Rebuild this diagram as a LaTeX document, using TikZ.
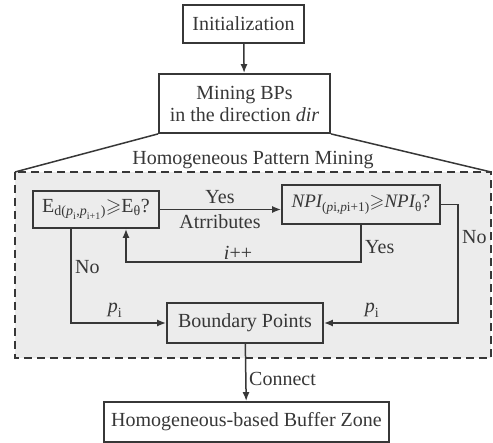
\documentclass[tikz,border=0pt]{standalone}
\usepackage{amsmath,amssymb}
\usepackage{fontspec}
\setmainfont{Liberation Serif}
\usetikzlibrary{arrows.meta,positioning}
\definecolor{linegray}{RGB}{55,55,55}
\definecolor{regionfill}{RGB}{236,236,236}
\tikzset{
  box/.style={draw=linegray, line width=1.8pt, inner sep=0pt, align=center, text=linegray},
  lbl/.style={text=linegray, inner sep=1pt},
  flow/.style={draw=linegray, line width=1.5pt, ->},
}

\begin{document}
\begin{tikzpicture}[x=1pt, y=-1pt, >={Latex[length=9pt,width=7pt]}, font=\fontsize{20}{22}\selectfont]
  \useasboundingbox (0,0) rectangle (493,443);
  % Region of the pattern mining
  \draw[dash pattern=on 8pt off 5pt, line width=1.3pt, draw=linegray, fill=regionfill] (15,172) rectangle (491,358);
  \coordinate (regionnw) at (15,172);
  \coordinate (regionne) at (491,172);
  \node[lbl] (regiontitle) at (253,160) {Homogeneous Pattern Mining};
  % Boxes
  \node[box, fill=white, minimum width=121pt, minimum height=38pt] (init) at (243.5,24) {Initialization};
  \node[box, fill=white, minimum width=171pt, minimum height=59pt] (mining) at (244.5,103.5) {Mining BPs\\in the direction \textit{dir}};
  \node[box, minimum width=126pt, minimum height=37pt] (ebox) at (96,209.5)
    {$\text{E}_{\text{d(}\textit{p}_{\text{i}}\text{,}\textit{p}_{\text{i+1}}\text{)}}{\geqslant}\text{E}_{\text{θ}}$?};
  \node[box, minimum width=158pt, minimum height=39pt, font=\fontsize{19}{22}\selectfont] (npi) at (361,204.5)
    {$\textit{NPI}_{\text{(}\textit{p}\text{i,}\textit{p}\text{i+1)}}{\geqslant}\textit{NPI}_{\text{θ}}$?};
  \node[box, minimum width=156pt, minimum height=40pt] (bp) at (245,323) {Boundary Points};
  \node[box, fill=white, minimum width=285pt, minimum height=40pt] (buffer) at (246.5,422) {Homogeneous-based Buffer Zone};
  % Turning points
  \coordinate (loopin) at (126,262);
  \coordinate (noleft) at (71,323);
  \coordinate (noright) at (458,323);
  % Connectors
  \draw[flow] (init) -- (mining);
  \draw[draw=linegray, line width=1.5pt] (mining.south west) -- (regionnw);
  \draw[draw=linegray, line width=1.5pt] (mining.south east) -- (regionne);
  \draw[flow] (ebox.east) -- (ebox.east -| npi.west);
  \draw[flow] (npi.south) |- (loopin) -- (loopin |- ebox.south);
  \draw[flow] (noleft |- ebox.south) -- (noleft) -- (bp.west);
  \draw[flow] (npi.east) -| (noright) -- (bp.east);
  \draw[flow] (bp) -- (buffer);
  % Labels
  \node[lbl] (yestop) at (220,197) {Yes};
  \node[lbl] (attr) at (220,222) {Atrributes};
  \node[lbl] (incr) at (238,253) {\textit{i}++};
  \node[lbl, anchor=west] (yesloop) at (364,247) {Yes};
  \node[lbl, anchor=west] (noleftlbl) at (74,267) {No};
  \node[lbl, anchor=west] (norightlbl) at (461,237) {No};
  \node[lbl] (pleft) at (115,310) {$\textit{p}_{\text{i}}$};
  \node[lbl] (pright) at (372,310) {$\textit{p}_{\text{i}}$};
  \node[lbl, anchor=west] (connect) at (248,379) {Connect};
\end{tikzpicture}
\end{document}
